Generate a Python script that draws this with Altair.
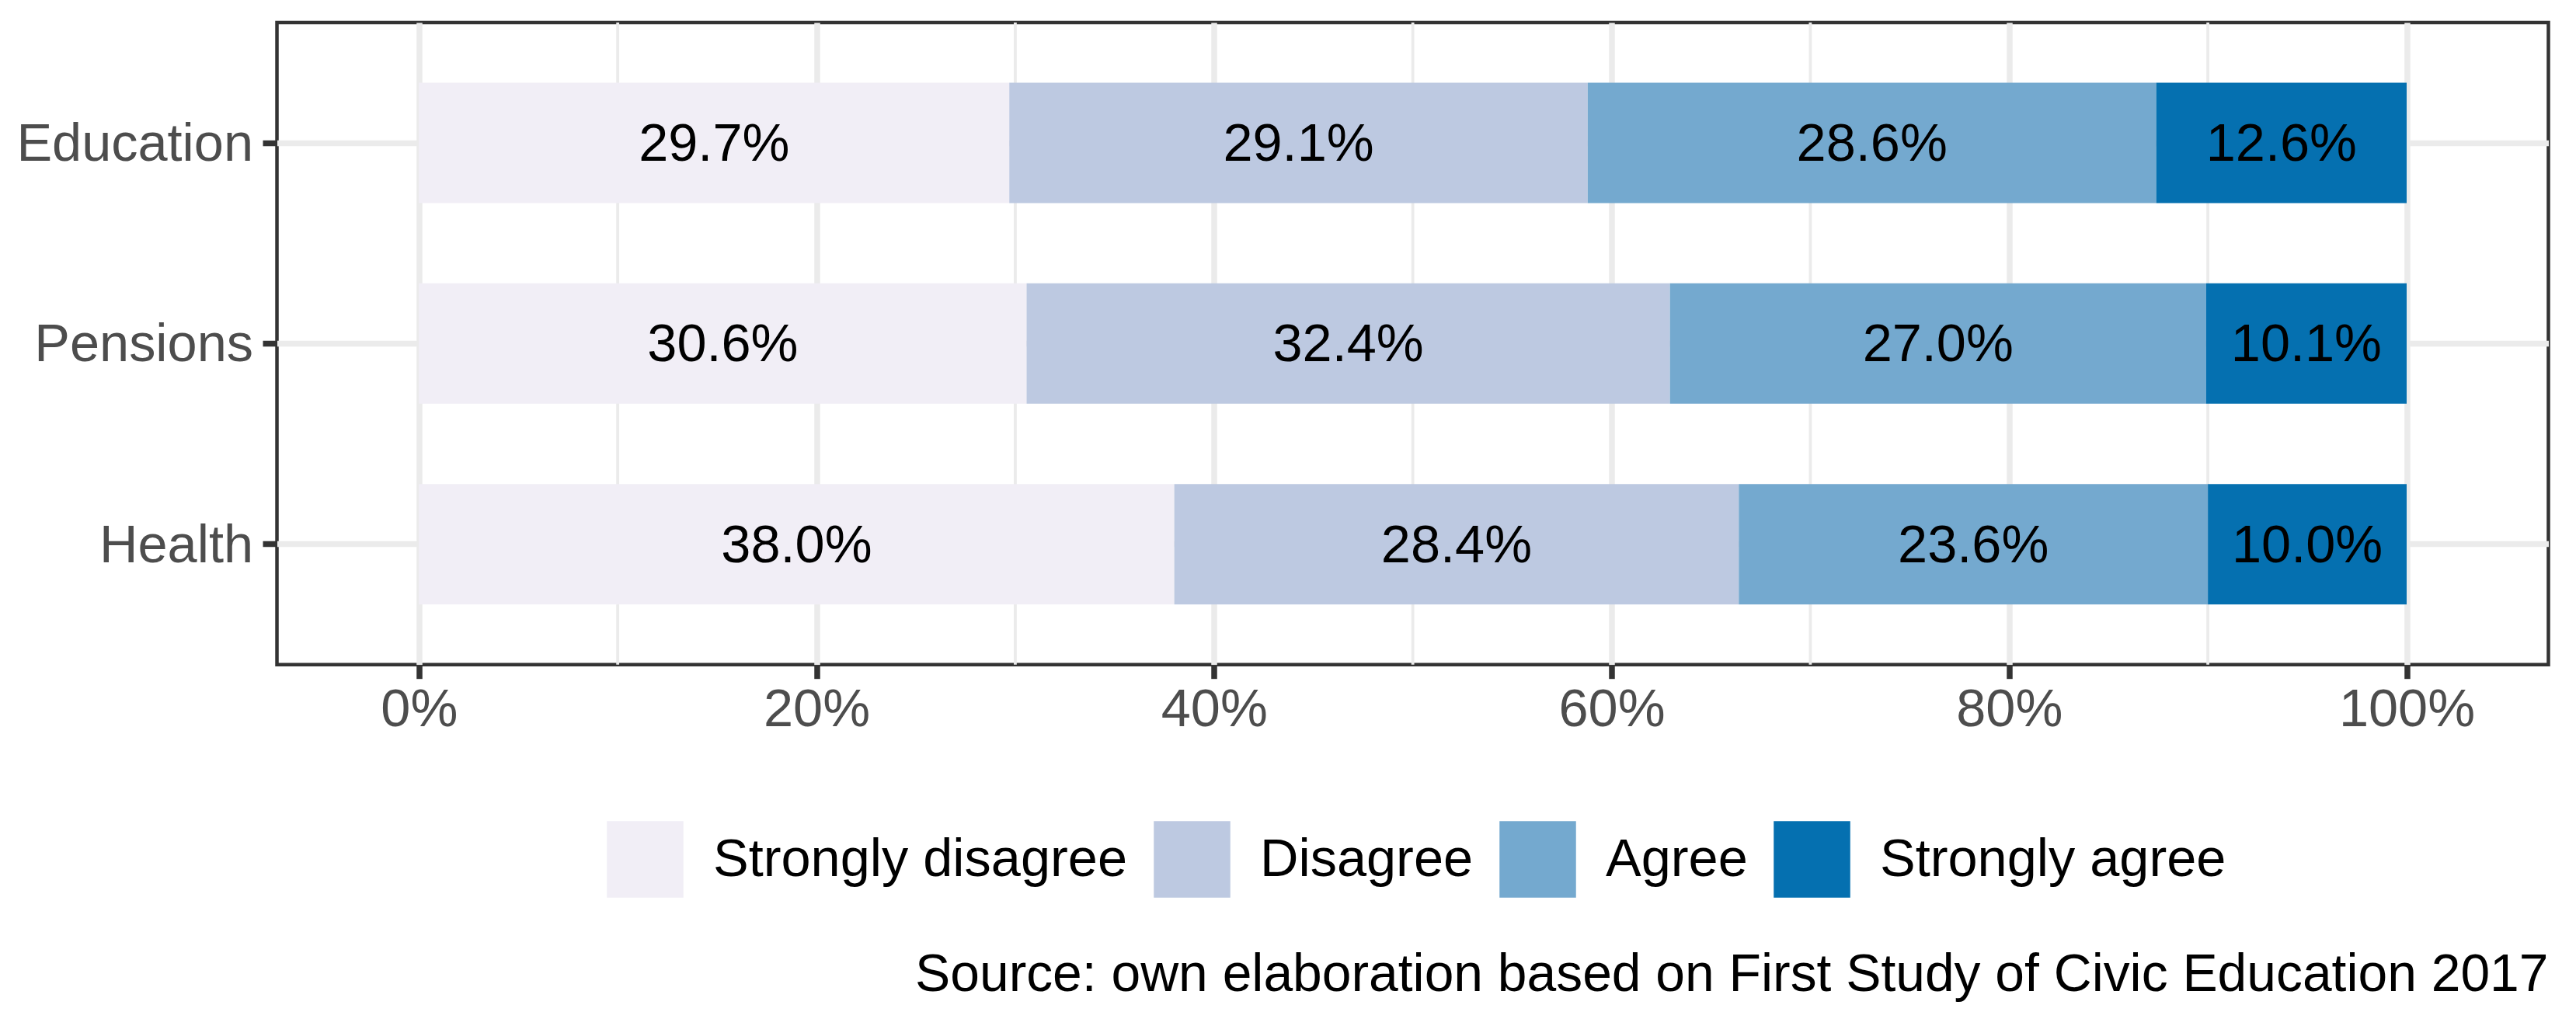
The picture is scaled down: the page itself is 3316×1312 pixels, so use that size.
import altair as alt
import pandas as pd

categories = ["Education", "Pensions", "Health"]
responses = ["Strongly disagree", "Disagree", "Agree", "Strongly agree"]
colors = ["#F1EEF6", "#BDC9E1", "#74A9CF", "#0570B0"]
education = [29.7, 29.1, 28.6, 12.6]
pensions = [30.6, 32.4, 27.0, 10.1]
health = [38.0, 28.4, 23.6, 10.0]
major_ticks = [0, 0.2, 0.4, 0.6, 0.8, 1.0]
minor_ticks = [0.1, 0.3, 0.5, 0.7, 0.9]
caption = "Source: own elaboration based on First Study of Civic Education 2017"

rows = []
for cat, vals in zip(categories, [education, pensions, health]):
    for i, (resp, v) in enumerate(zip(responses, vals)):
        rows.append({"category": cat, "response": resp, "order": i, "value": v})
df = pd.DataFrame(rows)
minor_df = pd.DataFrame({"m": minor_ticks})

FONT = "Liberation Sans"
FS = 68.5
GRID = "#EBEBEB"
DARK = "#333333"
GREY = "#4D4D4D"

x_scale = alt.Scale(domain=[-0.07144, 1.07132], nice=False, zero=False)
x_axis = alt.Axis(
    values=major_ticks, format=".0%", title=None, grid=True, gridColor=GRID,
    gridWidth=7.5, domain=False, tickColor=DARK, tickWidth=7.5, tickSize=18,
    labelPadding=7, labelFontSize=FS, labelColor=GREY, labelFont=FONT,
)
y_enc = alt.Y(
    "category:N", sort=categories, title=None,
    scale=alt.Scale(paddingInner=0.4, paddingOuter=0.3),
    axis=alt.Axis(
        grid=True, gridColor=GRID, gridWidth=7.5, bandPosition=0.5, domain=False,
        tickColor=DARK, tickWidth=7.5, tickSize=18.5, labelPadding=12.5,
        labelOffset=2, labelLimit=0,
        labelFontSize=FS, labelColor=GREY, labelFont=FONT,
    ),
)

minor = alt.Chart(minor_df).mark_rule(color=GRID, strokeWidth=3.8).encode(
    x=alt.X("m:Q", scale=x_scale, axis=x_axis)
)

base = (
    alt.Chart(df)
    .transform_stack(
        stack="value", groupby=["category"], as_=["v1", "v2"],
        offset="normalize", sort=[alt.SortField("order", order="ascending")],
    )
    .transform_calculate(mid="(datum.v1 + datum.v2) / 2", frac="datum.value / 100")
)

bars = base.mark_bar().encode(
    x=alt.X("v1:Q", scale=x_scale, axis=x_axis),
    x2="v2:Q",
    y=y_enc,
    color=alt.Color(
        "response:N",
        scale=alt.Scale(domain=responses, range=colors),
        legend=alt.Legend(
            title=None, orient="none", legendX=424.5, legendY=1028,
            direction="horizontal", symbolType="square", symbolSize=9702,
            symbolStrokeWidth=0, symbolOpacity=1, labelFontSize=FS, labelFont=FONT,
            labelColor="black", labelOffset=38, columnPadding=33, padding=0,
            labelLimit=0,
        ),
    ),
)

labels = base.mark_text(fontSize=FS, font=FONT, color="black", dy=2).encode(
    x=alt.X("mid:Q", scale=x_scale, axis=x_axis),
    y=alt.Y("category:N", sort=categories),
    text=alt.Text("frac:Q", format=".1%"),
)

chart = (
    alt.layer(minor, bars, labels)
    .properties(
        width=2924, height=826.7,
        padding={"left": 348.5, "top": 21, "right": 20, "bottom": 445},
        autosize=alt.AutoSizeParams(type="none"),
        title=alt.Title(
            caption, orient="bottom", anchor="end", frame="group", fontSize=67.8,
            font=FONT, fontWeight="normal", color="black", offset=66,
        ),
    )
    .configure_view(stroke=DARK, strokeWidth=4.5)
)

chart.save("out.html", embed_options={"renderer": "svg", "actions": False})
